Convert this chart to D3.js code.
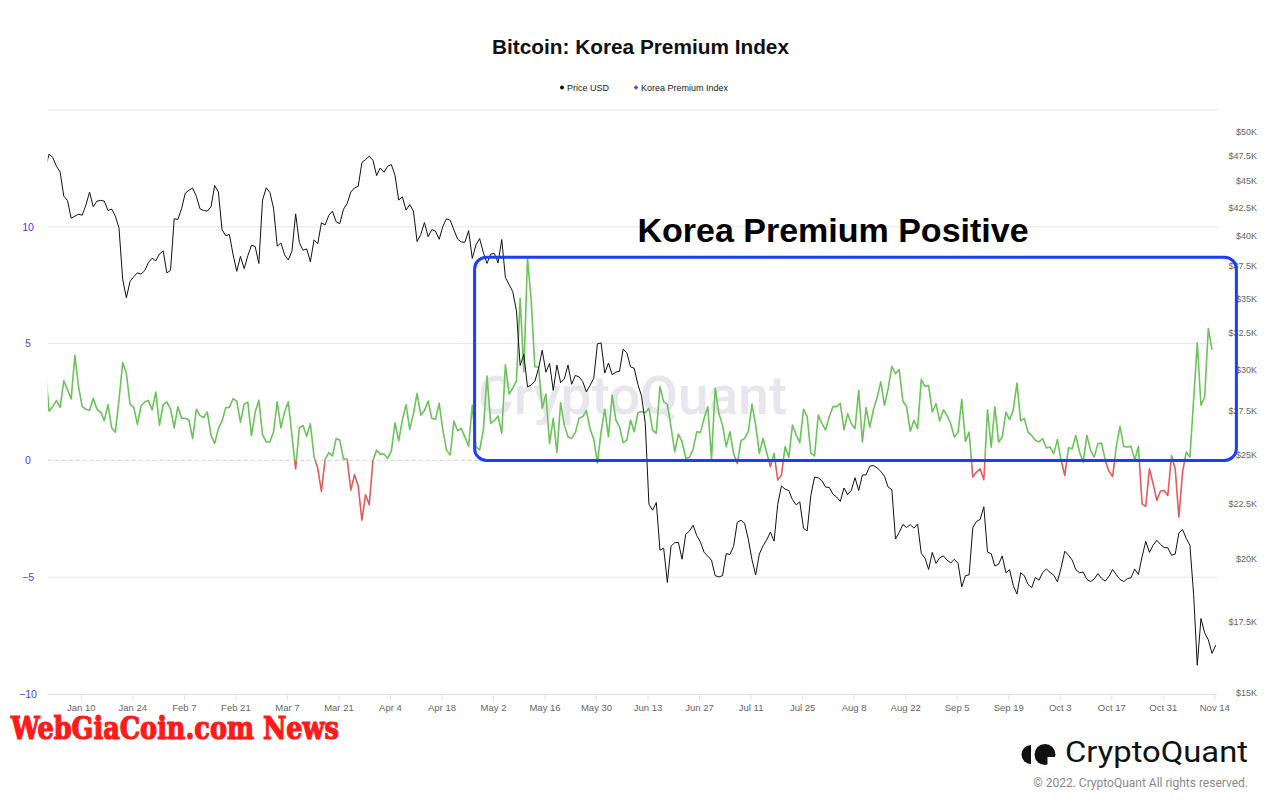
<!DOCTYPE html>
<html>
<head>
<meta charset="utf-8">
<script src="https://cdn.jsdelivr.net/npm/d3@7"></script>
<style>
  html, body { margin: 0; padding: 0; background: #ffffff; }
  svg { display: block; }
</style>
</head>
<body>
<svg id="chart" width="1280" height="806"></svg>
<script>
// ---------------- DATA ----------------
// Daily series, one value per UTC day starting at seriesStart
const seriesStart = "2021-12-31";

// Bitcoin price (USD), Dec 31 2021 -> Nov 14 2022
const priceUSD = [
  46306,
  // Jan
  47686, 47345, 46458, 45897, 43569, 43160, 41558, 41734, 41912, 41821, 42736, 43949, 42592, 43099, 43177, 43113,
  42250, 42375, 41744, 40680, 36458, 35030, 36276, 36654, 36954, 36852, 37138, 37784, 38138, 37918, 38483,
  // Feb
  38743, 36952, 37154, 41500, 41441, 42412, 43840, 44118, 44338, 43565, 42407, 42244, 42197, 42586, 44575, 43961,
  40538, 40030, 40122, 38431, 37075, 38286, 37296, 38332, 39214, 39105, 37709, 43193,
  // Mar
  44354, 43925, 42452, 39137, 39400, 38420, 37988, 38730, 41941, 39439, 38794, 38905, 37849, 39666, 39338, 41143,
  40951, 41801, 42190, 41247, 41077, 42358, 42892, 43960, 44348, 44500, 46820, 47128, 47465, 47062, 45538,
  // Apr
  46281, 45868, 46453, 46622, 45555, 43206, 43503, 42287, 42782, 42207, 39521, 40127, 41166, 39936, 40553, 40424,
  39716, 40827, 41503, 41374, 40527, 39741, 39486, 39470, 40458, 38117, 39241, 39773, 38609, 37714,
  // May
  38469, 38529, 37750, 39698, 36575, 36040, 35501, 34059, 30296, 31022, 28936, 29047, 29283, 30102, 31305, 29863,
  30425, 28720, 30314, 29200, 29432, 30323, 29098, 29655, 29562, 29267, 28628, 29031, 29468, 31734, 31801,
  // Jun
  29805, 30452, 29700, 29865, 29920, 31373, 31125, 30205, 30112, 29084, 28360, 26763, 22488, 22207, 22573, 20382,
  20471, 19018, 20554, 20711, 20723, 19988, 21086, 21232, 21502, 21028, 20736, 20281, 20123, 19943,
  // Jul
  19298, 19242, 19297, 20231, 20191, 20549, 21637, 21731, 21592, 20861, 19970, 19323, 20212, 20569, 20836, 21190,
  20779, 22485, 23389, 23231, 23164, 22714, 22465, 22609, 21361, 21239, 22930, 23843, 23804, 23656, 23336,
  // Aug
  23314, 22978, 22846, 22630, 23289, 22961, 23175, 23809, 23164, 23948, 23957, 24403, 24442, 24319, 24136, 23883,
  23336, 23212, 20877, 21166, 21534, 21398, 21529, 21368, 21560, 20241, 20037, 19555, 20285, 19812, 20050,
  // Sep
  20131, 19951, 19832, 19987, 19812, 18837, 19290, 19329, 21381, 21680, 21769, 22370, 20297, 20226, 19701, 19772,
  20127, 19419, 19544, 18891, 18547, 19413, 19297, 18937, 18802, 19222, 19110, 19426, 19573, 19431,
  // Oct
  19312, 19044, 19623, 20336, 20160, 19955, 19546, 19416, 19446, 19141, 19051, 19157, 19382, 19185, 19067, 19268,
  19550, 19334, 19139, 19053, 19172, 19208, 19567, 19345, 20095, 20770, 20285, 20595, 20818, 20635, 20495,
  // Nov
  20485, 20160, 20209, 21148, 21300, 20905, 20591, 18547, 15922, 17601, 17070, 16813, 16330, 16619
];

// Korea Premium Index (%), Dec 31 2021 -> Nov 13 2022
const koreaPremium = [
  3.9,
  2.11, 2.30, 2.56, 2.27, 3.41, 3.04, 2.63, 4.49, 3.16, 2.30,
  2.19, 2.14, 2.66, 2.19, 2.07, 1.70, 2.39, 1.40, 1.21, 2.59,
  4.19, 3.73, 2.41, 2.27, 1.54, 2.34, 2.50, 2.57, 2.16, 2.93,
  1.50, 2.40, 2.50, 2.21, 1.39, 2.30, 1.81, 1.80, 1.73, 0.93,
  2.19, 1.93, 1.83, 2.07, 1.07, 0.73, 1.36, 1.69, 2.26, 2.27,
  2.64, 2.54, 1.64, 2.41, 2.49, 1.06, 2.07, 2.57, 1.11, 0.79,
  0.79, 1.23, 2.51, 1.39, 2.07, 2.51, 1.04, -0.37, 1.40, 1.49,
  1.03, 1.57, 0.16, -0.33, -1.33, 0.04, 0.33, 0.19, 0.93, 0.87,
  0.06, 0.06, -1.27, -0.61, -1.10, -2.56, -1.47, -1.90, -0.01, 0.44,
  0.27, 0.27, 0.09, 0.40, 1.61, 0.84, 1.73, 2.39, 1.33, 1.99,
  2.87, 1.94, 2.14, 2.54, 1.80, 1.76, 2.44, 1.30, 0.44, 0.23,
  1.69, 1.27, 1.37, 1.01, 0.61, 2.37, 0.59, 0.44, 1.30, 3.61,
  1.59, 1.70, 1.90, 1.16, 4.09, 2.84, 3.09, 3.40, 6.94, 3.80,
  8.66, 6.87, 4.01, 3.99, 2.23, 2.84, 0.73, 1.80, 0.33, 2.47,
  1.51, 1.01, 0.94, 1.19, 1.80, 1.87, 2.13, 1.37, 0.90, -0.10,
  1.23, 2.19, 1.01, 2.80, 1.73, 1.44, 0.76, 0.87, 1.73, 1.23,
  2.04, 2.09, 2.04, 2.23, 1.30, 1.16, 3.16, 2.51, 2.40, 1.44,
  0.37, 1.13, 0.80, 0.09, 0.13, 0.47, 1.23, 1.20, 1.80, 2.30,
  0.06, 3.09, 2.01, 1.51, 0.59, 1.23, 0.30, -0.13, 0.84, 0.94,
  1.23, 2.41, 1.51, 0.30, 0.94, 0.33, -0.27, 0.30, -0.84, -0.63,
  0.59, 0.13, 1.51, 1.09, 0.76, 2.19, 1.87, 0.30, 0.19, 1.94,
  1.59, 1.30, 1.87, 2.30, 2.30, 2.44, 1.31, 2.00, 1.57, 1.36,
  3.00, 0.79, 2.26, 1.43, 2.17, 2.69, 3.36, 2.36, 3.07, 4.03,
  3.71, 3.89, 2.54, 2.31, 1.24, 1.71, 1.36, 3.46, 3.17, 3.20,
  2.07, 2.43, 1.69, 2.17, 1.93, 1.57, 1.00, 1.21, 2.60, 0.81,
  1.21, -0.71, -0.50, -0.36, -0.83, 2.17, 0.57, 2.29, 0.79, 1.00,
  2.07, 1.74, 2.17, 3.31, 1.69, 1.79, 1.21, 1.07, 0.86, 0.79,
  0.93, 0.53, 0.57, 0.29, 0.89, 0.00, -0.64, 0.54, 0.50, 1.07,
  0.36, -0.07, 1.07, 0.43, 0.14, 0.71, 0.74, 0.00, -0.46, -0.69,
  0.60, 1.46, 0.60, 0.57, 0.60, 0.03, 0.60, -1.86, -1.97, -0.36,
  -1.00, -1.71, -1.31, -1.29, -1.50, 0.21, -0.36, -2.43, -0.50, 0.36,
  0.14, 2.57, 5.03, 2.36, 2.71, 5.64, 4.74
];

// Axis ticks
const xTickLabels = ["Jan 10", "Jan 24", "Feb 7", "Feb 21", "Mar 7", "Mar 21", "Apr 4", "Apr 18", "May 2",
  "May 16", "May 30", "Jun 13", "Jun 27", "Jul 11", "Jul 25", "Aug 8", "Aug 22", "Sep 5", "Sep 19", "Oct 3",
  "Oct 17", "Oct 31", "Nov 14"];
const leftTicks = [-10, -5, 0, 5, 10];
const rightTicks = [15000, 17500, 20000, 22500, 25000, 27500, 30000, 32500, 35000, 37500, 40000, 42500, 45000, 47500, 50000];

// Annotation (in data units)
const annotation = { label: "Korea Premium Positive", from: "2022-04-27", to: "2022-11-20", top: 8.7, bottom: 0 };

// ---------------- LAYOUT ----------------
const svg = d3.select("#chart");
const plot = { left: 47.7, right: 1217.5, top: 110, bottom: 694 };
const KST = 9 * 3600 * 1000; // ticks shown at Korean midnight

const parseDay = d3.utcParse("%Y-%m-%d");
const start = parseDay(seriesStart);
const dayMs = 86400000;
const toDate = i => new Date(start.getTime() + i * dayMs);

const priceData = priceUSD.map((v, i) => ({ date: toDate(i), v }));
const kpiData = koreaPremium.map((v, i) => ({ date: toDate(i), v }));

const parseTick = d3.utcParse("%b %d %Y");
const tickDates = xTickLabels.map(l => new Date(parseTick(l + " 2022").getTime() - KST));

const x = d3.scaleUtc()
  .domain([new Date(Date.UTC(2022, 0, 1) - KST), new Date(Date.UTC(2022, 10, 14) - KST)])
  .range([47.7, 1214.3]);
const yL = d3.scaleLinear().domain([-10, 15]).range([plot.bottom, plot.top]);
const yR = d3.scaleLog().domain([15000, 50000]).range([693, 132]);

const font = "'Liberation Sans', Arial, Helvetica, sans-serif";

// defs / clips
const defs = svg.append("defs");
defs.append("clipPath").attr("id", "clipPlot").append("rect")
  .attr("x", plot.left).attr("y", plot.top).attr("width", plot.right - plot.left).attr("height", plot.bottom - plot.top);
defs.append("clipPath").attr("id", "clipPos").append("rect")
  .attr("x", plot.left).attr("y", plot.top).attr("width", plot.right - plot.left).attr("height", yL(0) - plot.top);
defs.append("clipPath").attr("id", "clipNeg").append("rect")
  .attr("x", plot.left).attr("y", yL(0)).attr("width", plot.right - plot.left).attr("height", plot.bottom - yL(0));

// ---------------- TITLE & LEGEND ----------------
svg.append("text").attr("x", 640.5).attr("y", 54).attr("text-anchor", "middle")
  .attr("font-family", font).attr("font-weight", "bold").attr("font-size", 20.8).attr("fill", "#111")
  .text("Bitcoin: Korea Premium Index");

const legend = svg.append("g").attr("font-family", font).attr("font-size", 9).attr("fill", "#222");
legend.append("circle").attr("cx", 562).attr("cy", 87.5).attr("r", 2).attr("fill", "#111");
legend.append("text").attr("x", 567).attr("y", 90.5).text("Price USD");
legend.append("path").attr("d", d3.symbol(d3.symbolDiamond2, 14)()).attr("transform", "translate(636,87.5)").attr("fill", "#5546f5");
legend.append("text").attr("x", 641).attr("y", 90.5).text("Korea Premium Index");

// ---------------- WATERMARK ----------------
svg.append("text").attr("x", 478).attr("y", 414)
  .attr("font-family", "Roboto, 'Open Sans', sans-serif").attr("font-size", 53).attr("font-weight", 500)
  .attr("fill", "#e6e6ec").attr("textLength", 309).attr("lengthAdjust", "spacingAndGlyphs")
  .text("CryptoQuant");

// ---------------- GRID ----------------
const grid = svg.append("g");
[15, 10, 5, -5].forEach(t => {
  grid.append("line").attr("x1", plot.left).attr("x2", plot.right).attr("y1", yL(t)).attr("y2", yL(t))
    .attr("stroke", "#e6e6e6").attr("stroke-width", 1);
});
grid.append("line").attr("x1", plot.left).attr("x2", plot.right).attr("y1", yL(0)).attr("y2", yL(0))
  .attr("stroke", "#cfcfd8").attr("stroke-width", 1).attr("stroke-dasharray", "4,3");

// ---------------- X AXIS ----------------
const xAxis = svg.append("g").attr("transform", `translate(0,${plot.bottom})`)
  .call(d3.axisBottom(x).tickValues(tickDates).tickSize(6).tickPadding(4)
    .tickFormat((d, i) => xTickLabels[i]));
xAxis.select(".domain").attr("d", `M${plot.left},0.5H${plot.right}`).attr("stroke", "#e2e2e2");
xAxis.selectAll(".tick line").attr("stroke", "#e2e2e2");
xAxis.selectAll(".tick text").attr("font-family", font).attr("font-size", 9.5).attr("fill", "#666");

// ---------------- LEFT AXIS ----------------
const lAxis = svg.append("g").attr("transform", "translate(28,0)")
  .call(d3.axisLeft(yL).tickValues(leftTicks).tickSize(0).tickPadding(0));
lAxis.select(".domain").remove();
lAxis.selectAll(".tick text").attr("text-anchor", "middle").attr("font-family", font)
  .attr("font-size", 10.5).attr("fill", "#4b3df2");

// ---------------- RIGHT AXIS ----------------
const fmtK = v => "$" + d3.format("~g")(v / 1000) + "K";
const rAxis = svg.append("g").attr("transform", "translate(1257,0)")
  .call(d3.axisRight(yR).tickValues(rightTicks).tickSize(0).tickPadding(0).tickFormat(fmtK));
rAxis.select(".domain").remove();
rAxis.selectAll(".tick text").attr("text-anchor", "end").attr("font-family", font)
  .attr("font-size", 9).attr("fill", "#666");

// ---------------- SERIES ----------------
const kpiLine = d3.line().x(d => x(d.date)).y(d => yL(d.v));
const kpiG = svg.append("g").attr("clip-path", "url(#clipPlot)");
kpiG.append("g").attr("clip-path", "url(#clipPos)").append("path").datum(kpiData)
  .attr("d", kpiLine).attr("fill", "none").attr("stroke", "#6cc35b").attr("stroke-width", 1.6)
  .attr("stroke-linejoin", "round");
kpiG.append("g").attr("clip-path", "url(#clipNeg)").append("path").datum(kpiData)
  .attr("d", kpiLine).attr("fill", "none").attr("stroke", "#e25c5c").attr("stroke-width", 1.6)
  .attr("stroke-linejoin", "round");

const priceLine = d3.line().x(d => x(d.date)).y(d => yR(d.v));
svg.append("g").attr("clip-path", "url(#clipPlot)").append("path").datum(priceData)
  .attr("d", priceLine).attr("fill", "none").attr("stroke", "#111").attr("stroke-width", 1)
  .attr("stroke-linejoin", "round");

// ---------------- ANNOTATION ----------------
const ax0 = x(new Date(parseDay(annotation.from).getTime() - KST));
const ax1 = x(new Date(parseDay(annotation.to).getTime() - KST));
const ay0 = yL(annotation.top), ay1 = yL(annotation.bottom);
svg.append("rect").attr("x", ax0).attr("y", ay0).attr("width", ax1 - ax0).attr("height", ay1 - ay0)
  .attr("rx", 12).attr("ry", 12).attr("fill", "none").attr("stroke", "#1d3df7").attr("stroke-width", 3);
svg.append("text").attr("x", 833).attr("y", 242).attr("text-anchor", "middle")
  .attr("font-family", font).attr("font-weight", "bold").attr("font-size", 34).attr("fill", "#000")
  .text(annotation.label);

// ---------------- FOOTER ----------------
svg.append("text").attr("x", 11).attr("y", 739)
  .attr("font-family", "'DejaVu Serif Condensed', 'DejaVu Serif', serif").attr("font-weight", "bold")
  .attr("font-size", 31).attr("fill", "#ff1a1a").attr("stroke", "#ff1a1a").attr("stroke-width", 1.2)
  .attr("textLength", 328).attr("lengthAdjust", "spacingAndGlyphs")
  .text("WebGiaCoin.com News");

const logo = svg.append("g").attr("fill", "#111");
// left half-disc (flat side on the right)
logo.append("path").attr("d", "M1031,745 A9.5,9.5 0 0 0 1031,764 Z");
// right disc with a notch at the bottom-right
logo.append("circle").attr("cx", 1045).attr("cy", 754.5).attr("r", 10.5);
logo.append("rect").attr("x", 1047.5).attr("y", 757).attr("width", 9).attr("height", 9).attr("fill", "#ffffff");
svg.append("text").attr("x", 1065).attr("y", 762)
  .attr("font-family", "Roboto, Inter, sans-serif").attr("font-size", 29).attr("fill", "#111")
  .attr("textLength", 183).attr("lengthAdjust", "spacingAndGlyphs").text("CryptoQuant");
svg.append("text").attr("x", 1248).attr("y", 787).attr("text-anchor", "end")
  .attr("font-family", "Roboto, Inter, sans-serif").attr("font-size", 12).attr("fill", "#8a8a8a")
  .text("© 2022. CryptoQuant All rights reserved.");
</script>
</body>
</html>
